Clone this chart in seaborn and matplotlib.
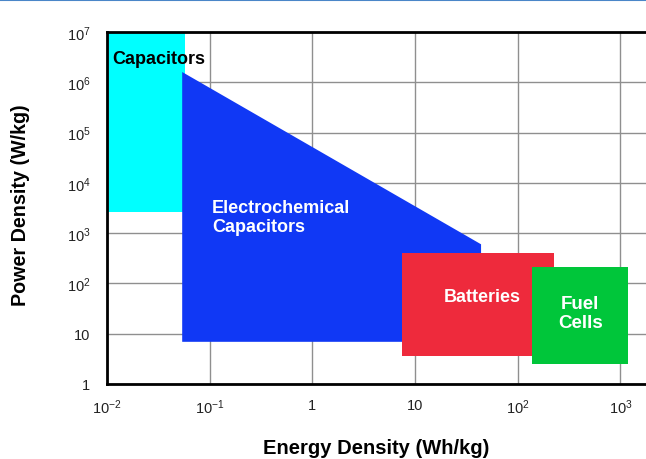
import numpy as np
import matplotlib.pyplot as plt
from matplotlib.lines import Line2D
import seaborn as sns

# region outlines (Wh/kg, W/kg)
cap_x = [0.01, 0.057, 0.057, 0.01]
cap_y = [2600, 2600, 1e7, 1e7]
ec_x = [0.054, 0.054, 44, 44]
ec_y = [6.9, 1.6e6, 600, 6.9]
bat_x = [7.5, 228, 228, 7.5]
bat_y = [3.6, 3.6, 400, 400]
fc_x = [138, 1200, 1200, 138]
fc_y = [2.5, 2.5, 215, 215]

xticks = [1e-2, 1e-1, 1, 10, 1e2, 1e3]
xlabels = ['$10^{-2}$', '$10^{-1}$', '1', '10', '$10^{2}$', '$10^{3}$']
yticks = [1, 10, 1e2, 1e3, 1e4, 1e5, 1e6, 1e7]
ylabels = ['1', '10', '$10^{2}$', '$10^{3}$', '$10^{4}$', '$10^{5}$', '$10^{6}$', '$10^{7}$']

sns.set_theme(style="whitegrid")
plt.rcParams['font.family'] = ['Liberation Sans', 'DejaVu Sans']
plt.rcParams['mathtext.fontset'] = 'custom'
plt.rcParams['mathtext.rm'] = 'Liberation Sans'
plt.rcParams['mathtext.it'] = 'Liberation Sans'

fig = plt.figure(figsize=(6.46, 4.60), dpi=100)
ax = fig.add_axes([107/646, 75/460, 1 - 107/646, 352/460])
ax.set_xscale('log')
ax.set_yscale('log')
ax.set_xlim(1e-2, 10**3.25)
ax.set_ylim(1, 1e7)

ax.fill(cap_x, cap_y, color='#00FFFF', lw=0, zorder=2)
ax.fill(ec_x, ec_y, color='#1038F5', lw=0, zorder=3)
ax.fill(bat_x, bat_y, color='#EE2A3C', lw=0, zorder=4)
ax.fill(fc_x, fc_y, color='#00C63A', lw=0, zorder=5)

ax.text(0.0112, 3.0e6, 'Capacitors', fontsize=13, fontweight='bold', color='black',
        va='center', ha='left', zorder=6)
ax.text(0.105, 2.1e3, 'Electrochemical\nCapacitors', fontsize=13, fontweight='bold',
        color='white', va='center', ha='left', linespacing=1.15, zorder=6)
ax.text(45, 54, 'Batteries', fontsize=13, fontweight='bold', color='white',
        va='center', ha='center', zorder=6)
ax.text(407, 26, 'Fuel\nCells', fontsize=13.5, fontweight='bold', color='white',
        va='center', ha='center', linespacing=1.15, zorder=6)

ax.set_xticks(xticks)
ax.set_xticklabels(xlabels)
ax.set_yticks(yticks)
ax.set_yticklabels(ylabels)
ax.minorticks_off()
ax.tick_params(axis='x', length=0, pad=10, labelsize=10.5, colors='#222222')
ax.tick_params(axis='y', length=0, pad=12, labelsize=10.5, colors='#222222')
ax.grid(True, color='#8f8f8f', lw=1.0, zorder=1)
ax.set_axisbelow(True)

for side in ['left', 'top', 'bottom']:
    ax.spines[side].set_visible(True)
    ax.spines[side].set_color('black')
    ax.spines[side].set_linewidth(2.0)
    ax.spines[side].set_zorder(7)
ax.spines['right'].set_visible(False)

ax.set_xlabel('Energy Density (Wh/kg)', fontsize=14.5, fontweight='bold', color='black')
ax.set_ylabel('Power Density (W/kg)', fontsize=14.2, fontweight='bold', color='black')
ax.xaxis.set_label_coords(0.5, -0.153)
ax.yaxis.set_label_coords(-0.143, 0.511)

# thin blue rule along the top of the page
fig.add_artist(Line2D([0, 1], [0.998, 0.998], transform=fig.transFigure,
                      color='#4A86C8', lw=1.5))

fig.savefig('out.png', dpi=100)
